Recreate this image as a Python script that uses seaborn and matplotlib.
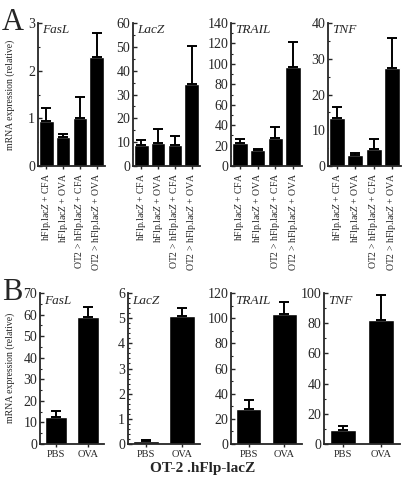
import matplotlib
matplotlib.use("Agg")
import matplotlib.pyplot as plt
import seaborn as sns
import pandas as pd
from matplotlib.ticker import MultipleLocator, AutoMinorLocator

# Panel A data (mean and top of error bar)
genes = ["FasL", "LacZ", "TRAIL", "TNF"]
groups_a = ["hFlp.lac$Z$ + CFA", "hFlp.lac$Z$ + OVA",
            "OT2 > hFlp.lac$Z$ + CFA", "OT2 > hFlp.lac$Z$ + OVA"]
mean_a = {
    "FasL": [0.94, 0.60, 1.01, 2.29],
    "LacZ": [8.9, 9.7, 8.9, 34.3],
    "TRAIL": [23.0, 15.5, 27.5, 96.5],
    "TNF": [13.3, 3.2, 4.7, 27.4],
}
top_a = {
    "FasL": [1.22, 0.67, 1.44, 2.80],
    "LacZ": [11.0, 15.5, 12.4, 50.5],
    "TRAIL": [26.5, 17.0, 38.5, 121.0],
    "TNF": [16.4, 3.6, 7.5, 35.8],
}
ymax_a = {"FasL": 3, "LacZ": 60, "TRAIL": 140, "TNF": 40}
ystep_a = {"FasL": 1, "LacZ": 10, "TRAIL": 20, "TNF": 10}

# Panel B data
groups_b = ["PBS", "OVA"]
mean_b = {
    "FasL": [12.3, 59.0],
    "LacZ": [0.12, 5.1],
    "TRAIL": [27.5, 103.5],
    "TNF": [9.2, 82.0],
}
top_b = {
    "FasL": [15.3, 63.3],
    "LacZ": [0.15, 5.4],
    "TRAIL": [35.0, 112.5],
    "TNF": [12.0, 99.0],
}
ymax_b = {"FasL": 70, "LacZ": 6, "TRAIL": 120, "TNF": 100}
ystep_b = {"FasL": 10, "LacZ": 1, "TRAIL": 20, "TNF": 20}

sns.set_style("ticks")
plt.rcParams["font.family"] = ["Liberation Serif", "DejaVu Serif"]
plt.rcParams["mathtext.fontset"] = "custom"
plt.rcParams["mathtext.rm"] = "Liberation Serif"
plt.rcParams["mathtext.it"] = "Liberation Serif:italic"

W, H = 403, 483
fig = plt.figure(figsize=(W / 100, H / 100), dpi=100)


def px_axes(x0, x1, ytop, ybot):
    return fig.add_axes([x0 / W, 1 - ybot / H, (x1 - x0) / W, (ybot - ytop) / H])


def draw(ax, groups, means, tops, ymax, ystep, minor, gene, width, xsize):
    df = pd.DataFrame({"group": groups, "value": means})
    sns.barplot(data=df, x="group", y="value", color="black", width=width,
                errorbar=None, ax=ax, saturation=1)
    err = [t - m for t, m in zip(tops, means)]
    ax.errorbar(range(len(groups)), means, yerr=[[0] * len(err), err],
                fmt="none", ecolor="black", elinewidth=1.4, capsize=3.5, capthick=1.4)
    ax.set_ylim(0, ymax)
    ax.set_xlim(-0.5, len(groups) - 0.5)
    ax.yaxis.set_major_locator(MultipleLocator(ystep))
    ax.yaxis.set_minor_locator(AutoMinorLocator(minor))
    ax.tick_params(axis="y", which="major", direction="in", length=3, width=1, labelsize=10, pad=2)
    ax.tick_params(axis="y", which="minor", direction="in", length=1.5, width=0.8)
    ax.tick_params(axis="x", direction="out", length=2.5, width=1, labelsize=xsize, pad=2)
    if len(groups) > 2:
        for lab in ax.get_xticklabels():
            lab.set_rotation(90)
    ax.set_xlabel("")
    ax.set_ylabel("")
    for s in ["top", "right"]:
        ax.spines[s].set_visible(False)
    for s in ["left", "bottom"]:
        ax.spines[s].set_linewidth(1.3)
    ax.text(0.06, 0.99, gene, transform=ax.transAxes, fontsize=9.5, style="italic",
            ha="left", va="top")


cols_a = [(38, 105), (133, 200), (231, 302), (328, 401)]
cols_b = [(40, 104), (128, 200), (231, 302), (324, 400)]

for g, (x0, x1) in zip(genes, cols_a):
    ax = px_axes(x0, x1, 23, 166)
    draw(ax, groups_a, mean_a[g], top_a[g], ymax_a[g], ystep_a[g], 2, g, 0.88, 7)

for g, (x0, x1) in zip(genes, cols_b):
    ax = px_axes(x0, x1, 293, 444)
    draw(ax, groups_b, mean_b[g], top_b[g], ymax_b[g], ystep_b[g],
         5 if g == "LacZ" else 2, g, 0.7, 7.5)

fig.text(10 / W, 1 - 95 / H, "mRNA expression (relative)", rotation=90,
         fontsize=7, ha="center", va="center")
fig.text(10 / W, 1 - 368 / H, "mRNA expression (relative)", rotation=90,
         fontsize=7, ha="center", va="center")
fig.text(2 / W, 1 - 30 / H, "A", fontsize=22, ha="left", va="baseline")
fig.text(2 / W, 1 - 300 / H, "B", fontsize=22, ha="left", va="baseline")
fig.text(203 / W, 1 - 472 / H, "OT-2 .hFlp-lacZ", fontsize=11,
         fontweight="bold", ha="center", va="baseline")

fig.savefig("out.png", dpi=100)
